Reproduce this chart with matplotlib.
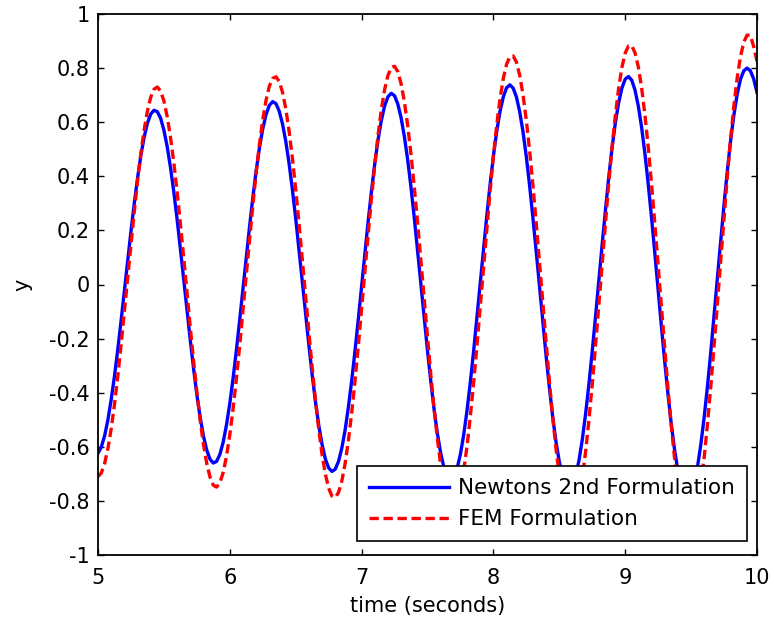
import matplotlib
matplotlib.use("Agg")
import matplotlib.pyplot as plt
import numpy as np

plt.rcParams['font.family'] = ['DejaVu Sans']
plt.rcParams['font.size'] = 15

# time samples, every 0.025 s from 5 to 10
t_start, t_stop, n_pts = 5.0, 10.0, 201

y_newton = [
    -0.624, -0.601, -0.560, -0.501, -0.426, -0.339, -0.241, -0.135, -0.025, 0.087,
    0.196, 0.299, 0.393, 0.476, 0.544, 0.596, 0.630, 0.644, 0.639, 0.615,
    0.571, 0.510, 0.433, 0.343, 0.242, 0.133, 0.020, -0.094, -0.205, -0.310,
    -0.407, -0.490, -0.560, -0.612, -0.646, -0.660, -0.654, -0.628, -0.583, -0.519,
    -0.440, -0.347, -0.243, -0.132, -0.016, 0.100, 0.214, 0.322, 0.420, 0.505,
    0.575, 0.628, 0.662, 0.676, 0.669, 0.641, 0.594, 0.529, 0.447, 0.351,
    0.245, 0.130, 0.012, -0.108, -0.224, -0.334, -0.433, -0.520, -0.591, -0.645,
    -0.678, -0.691, -0.683, -0.654, -0.605, -0.538, -0.453, -0.355, -0.246, -0.129,
    -0.007, 0.115, 0.234, 0.345, 0.447, 0.535, 0.607, 0.661, 0.694, 0.707,
    0.698, 0.667, 0.616, 0.546, 0.460, 0.359, 0.246, 0.126, 0.002, -0.122,
    -0.244, -0.357, -0.461, -0.550, -0.623, -0.677, -0.710, -0.722, -0.712, -0.680,
    -0.627, -0.555, -0.466, -0.362, -0.247, -0.124, 0.003, 0.130, 0.254, 0.370,
    0.474, 0.565, 0.639, 0.693, 0.727, 0.738, 0.726, 0.693, 0.638, 0.564,
    0.472, 0.365, 0.247, 0.122, -0.008, -0.138, -0.264, -0.382, -0.489, -0.581,
    -0.655, -0.710, -0.743, -0.753, -0.741, -0.706, -0.649, -0.572, -0.477, -0.368,
    -0.247, -0.119, 0.014, 0.146, 0.274, 0.395, 0.503, 0.596, 0.671, 0.726,
    0.759, 0.769, 0.755, 0.718, 0.659, 0.580, 0.483, 0.371, 0.247, 0.116,
    -0.020, -0.155, -0.285, -0.407, -0.517, -0.612, -0.688, -0.743, -0.775, -0.784,
    -0.769, -0.730, -0.670, -0.588, -0.488, -0.373, -0.247, -0.112, 0.026, 0.163,
    0.296, 0.420, 0.532, 0.627, 0.704, 0.759, 0.790, 0.800, 0.790, 0.760,
    0.710,
]

y_fem = [
    -0.710, -0.697, -0.662, -0.607, -0.534, -0.444, -0.340, -0.225, -0.103, 0.023,
    0.148, 0.269, 0.382, 0.484, 0.571, 0.641, 0.692, 0.722, 0.730, 0.715,
    0.679, 0.621, 0.545, 0.452, 0.344, 0.226, 0.101, -0.029, -0.157, -0.281,
    -0.397, -0.501, -0.590, -0.661, -0.712, -0.742, -0.749, -0.733, -0.695, -0.635,
    -0.556, -0.459, -0.349, -0.227, -0.098, 0.035, 0.166, 0.293, 0.412, 0.518,
    0.609, 0.681, 0.733, 0.762, 0.768, 0.751, 0.711, 0.649, 0.567, 0.467,
    0.353, 0.227, 0.095, -0.041, -0.176, -0.306, -0.427, -0.535, -0.628, -0.701,
    -0.753, -0.782, -0.787, -0.769, -0.727, -0.662, -0.577, -0.474, -0.357, -0.228,
    -0.092, 0.048, 0.186, 0.319, 0.442, 0.553, 0.647, 0.721, 0.773, 0.802,
    0.807, 0.787, 0.742, 0.675, 0.587, 0.481, 0.360, 0.228, 0.088, -0.055,
    -0.196, -0.332, -0.458, -0.570, -0.666, -0.741, -0.794, -0.822, -0.826, -0.804,
    -0.758, -0.688, -0.598, -0.488, -0.364, -0.228, -0.084, 0.062, 0.207, 0.345,
    0.474, 0.588, 0.685, 0.761, 0.814, 0.842, 0.845, 0.822, 0.773, 0.701,
    0.607, 0.495, 0.367, 0.227, 0.080, -0.069, -0.217, -0.359, -0.490, -0.606,
    -0.705, -0.781, -0.835, -0.862, -0.864, -0.839, -0.789, -0.714, -0.617, -0.501,
    -0.370, -0.226, -0.076, 0.077, 0.228, 0.373, 0.506, 0.624, 0.724, 0.802,
    0.855, 0.882, 0.883, 0.856, 0.804, 0.726, 0.626, 0.507, 0.372, 0.225,
    0.071, -0.085, -0.239, -0.387, -0.523, -0.643, -0.744, -0.822, -0.876, -0.903,
    -0.902, -0.874, -0.819, -0.738, -0.636, -0.513, -0.374, -0.224, -0.067, 0.093,
    0.251, 0.401, 0.539, 0.661, 0.764, 0.843, 0.896, 0.922, 0.921, 0.880,
    0.825,
]

t = np.linspace(t_start, t_stop, n_pts)

fig = plt.figure(figsize=(7.74, 6.25), dpi=100)
ax = fig.add_axes([0.1266, 0.112, 0.8514, 0.8656])

ax.plot(t, y_newton, color='#0000ff', lw=2.4, label='Newtons 2nd Formulation')
ax.plot(t, y_fem, color='#ff0000', lw=2.4, ls=(0, (2.8, 1.4)), label='FEM Formulation')

ax.set_xlim(5, 10)
ax.set_ylim(-1, 1)
ax.set_xticks(np.arange(5, 10.5, 1))
ax.set_yticks(np.round(np.arange(-1, 1.01, 0.2), 1))
ax.set_xticklabels(['5', '6', '7', '8', '9', '10'])
ax.set_yticklabels(['-1', '-0.8', '-0.6', '-0.4', '-0.2', '0',
                    '0.2', '0.4', '0.6', '0.8', '1'])
ax.tick_params(direction='in', top=True, right=True, length=4.5, width=1)
ax.tick_params(axis='x', pad=9)
ax.tick_params(axis='y', pad=6)
for sp in ax.spines.values():
    sp.set_linewidth(1.3)

ax.set_xlabel('time (seconds)', labelpad=6)
ax.set_ylabel('y', labelpad=12)

leg = ax.legend(loc='lower right', bbox_to_anchor=(0.985, 0.026),
                borderaxespad=0, fancybox=False, framealpha=1,
                edgecolor='black', handlelength=3.7, handletextpad=0.45,
                labelspacing=0.5, borderpad=0.55, fontsize=15.5)
leg.get_frame().set_linewidth(1.2)

fig.savefig('out.png', dpi=100)
